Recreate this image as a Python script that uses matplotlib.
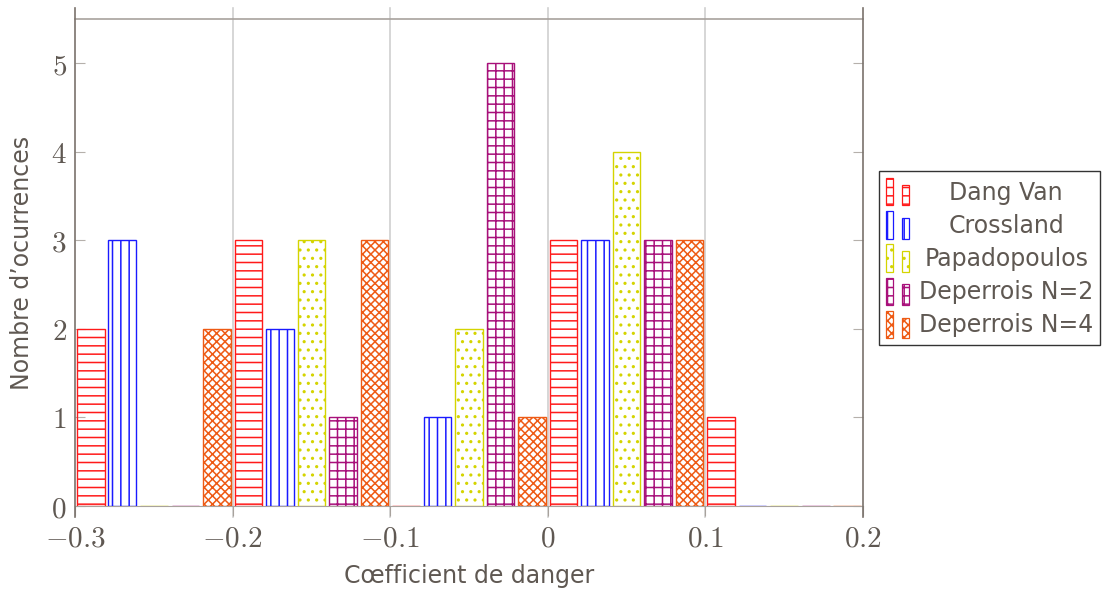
import matplotlib
matplotlib.use("Agg")
import matplotlib.pyplot as plt
from matplotlib.patches import Rectangle
from matplotlib.legend_handler import HandlerBase
from matplotlib.ticker import FuncFormatter
from matplotlib.transforms import Affine2D

# data
bins = [-0.25, -0.15, -0.05, 0.05, 0.15]
series = ["Dang Van", "Crossland", "Papadopoulos", "Deperrois N=2", "Deperrois N=4"]
dang_van = [2, 3, 0, 3, 1]
crossland = [3, 2, 1, 3, 0]
papadopoulos = [0, 3, 2, 4, 0]
deperrois_n2 = [0, 1, 5, 3, 0]
deperrois_n4 = [2, 3, 1, 3, 0]
xticks = [-0.3, -0.2, -0.1, 0, 0.1, 0.2]
yticks = [0, 1, 2, 3, 4, 5]

values = [dang_van, crossland, papadopoulos, deperrois_n2, deperrois_n4]
colors = ["#ff1a1a", "#1a1aff", "#d4d400", "#a8107a", "#ee5a14"]
hatches = ["--", "||", "..", "++", "xxxx"]
offsets = [-0.04, -0.02, 0.0, 0.02, 0.04]
txt = "#5f5852"

plt.rcParams["mathtext.fontset"] = "cm"
plt.rcParams["hatch.linewidth"] = 1.1
plt.rcParams["font.family"] = "DejaVu Sans"

fig = plt.figure(figsize=(11.03, 5.95), dpi=100)
ax = fig.add_axes([75 / 1103, 89 / 595, 788 / 1103, 487 / 595])

for vals, c, h, off, name in zip(values, colors, hatches, offsets, series):
    ax.bar([b + off for b in bins], vals, width=0.0175, facecolor="none",
           edgecolor=c, hatch=h, linewidth=1.0, zorder=3, label=name)

ax.set_xlim(-0.3, 0.2)
ax.set_ylim(0, 5.5)
ax.set_xticks(xticks)
ax.set_yticks(yticks)
ax.xaxis.set_major_formatter(FuncFormatter(lambda v, p: "$%g$" % round(v, 2)))
ax.yaxis.set_major_formatter(FuncFormatter(lambda v, p: "$%d$" % v))
ax.tick_params(axis="x", direction="out", length=7.5, color="#a8a29d",
               labelsize=21, labelcolor=txt, pad=6)
ax.tick_params(axis="y", direction="in", length=7.5, color="#b5b0ab",
               left=True, right=True, labelsize=21, labelcolor=txt, pad=6)

for s in ["left", "right"]:
    ax.spines[s].set_visible(False)
ax.spines["top"].set_color("#a8a29d")
ax.spines["bottom"].set_color("#a8a29d")
ax.spines["top"].set_linewidth(1.2)

for x in xticks[1:-1]:
    ax.axvline(x, ymin=-0.022, ymax=1.022, color="#d0d0d0", lw=1.2,
               clip_on=False, zorder=1)
for x in (xticks[0], xticks[-1]):
    ax.axvline(x, ymin=-0.022, ymax=1.022, color="#7a726c", lw=1.2,
               clip_on=False, zorder=4)

ax.set_xlabel("Cœfficient de danger", fontsize=17, color=txt, labelpad=8)
ax.set_ylabel("Nombre d’ocurrences", fontsize=17, color=txt, labelpad=12)


class TwoBars(HandlerBase):
    def create_artists(self, legend, orig, xd, yd, w, h, fontsize, trans):
        arts = []
        for x0, hh in ((0.0, 1.0), (0.6, 0.75)):
            r = Rectangle((-xd + x0 * w, -yd), 0.28 * w, hh * h,
                          facecolor="none", edgecolor=orig.get_edgecolor(),
                          hatch=orig.get_hatch(), linewidth=0.9,
                          transform=trans)
            arts.append(r)
        return arts


handles = [Rectangle((0, 0), 1, 1, facecolor="none", edgecolor=c, hatch=h)
           for c, h in zip(colors, hatches)]
leg = fig.legend(handles, series, loc="upper left",
                 bbox_to_anchor=(879 / 1103, 1 - 171 / 595),
                 handler_map={Rectangle: TwoBars()}, fontsize=17,
                 frameon=True, fancybox=False, edgecolor="black",
                 handlelength=1.1, handleheight=1.4, handletextpad=0.3,
                 labelspacing=0.25, borderpad=0.3, borderaxespad=0)
leg.get_frame().set_linewidth(1.0)
for t in leg.get_texts():
    t.set_color(txt)

# centre the legend labels like the original
fig.canvas.draw()
r = fig.canvas.get_renderer()
widths = [t.get_window_extent(r).width for t in leg.get_texts()]
for t, wd in zip(leg.get_texts(), widths):
    t.set_transform(t.get_transform() + Affine2D().translate((max(widths) - wd) / 2, 0))

fig.savefig("out.png", dpi=100)
